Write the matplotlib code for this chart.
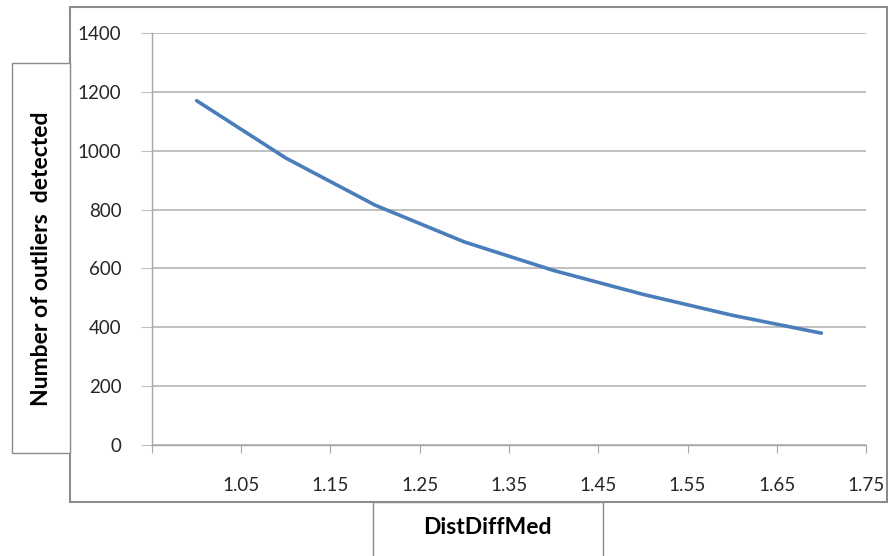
import matplotlib
matplotlib.use("Agg")
import matplotlib.pyplot as plt
from matplotlib.patches import Rectangle

# Data
dist_diff_med = [1.0, 1.1, 1.2, 1.3, 1.4, 1.5, 1.6, 1.7]
outliers = [1170, 975, 815, 690, 593, 512, 441, 380]
x_ticks = [0.95, 1.05, 1.15, 1.25, 1.35, 1.45, 1.55, 1.65, 1.75]
x_tick_labels = ["", "1.05", "1.15", "1.25", "1.35", "1.45", "1.55", "1.65", "1.75"]
y_ticks = [0, 200, 400, 600, 800, 1000, 1200, 1400]

W, H = 888, 556
plt.rcParams['font.family'] = ['Lato', 'DejaVu Sans']
fig = plt.figure(figsize=(W / 100, H / 100), dpi=100)

def fx(px):
    return px / W

def fy(py):
    return 1 - py / H

# Outer chart border
fig.patches.append(Rectangle((fx(70), fy(502)), fx(887) - fx(70), fy(7) - fy(502),
                             transform=fig.transFigure, fill=False,
                             edgecolor='#8c8c8c', linewidth=1.5))
# Y label box
fig.patches.append(Rectangle((fx(12), fy(453)), fx(70) - fx(12), fy(63) - fy(453),
                             transform=fig.transFigure, facecolor='white',
                             edgecolor='#8c8c8c', linewidth=1.0))
# X label box
fig.patches.append(Rectangle((fx(373), fy(560)), fx(603) - fx(373), fy(502) - fy(560),
                             transform=fig.transFigure, facecolor='white',
                             edgecolor='#8c8c8c', linewidth=1.0, clip_on=False))

ax = fig.add_axes([fx(152), fy(445), fx(866) - fx(152), fy(33) - fy(445)])
ax.plot(dist_diff_med, outliers, color='#4A7EBB', linewidth=2.6, solid_capstyle='round')

ax.set_xlim(0.95, 1.75)
ax.set_ylim(0, 1400)
ax.set_xticks(x_ticks)
ax.set_xticklabels(x_tick_labels)
ax.set_yticks(y_ticks)
ax.yaxis.grid(True, color='#bfbfbf', linewidth=1.4)
ax.set_axisbelow(True)
for s in ['top', 'right']:
    ax.spines[s].set_visible(False)
for s in ['left', 'bottom']:
    ax.spines[s].set_color('#a6a6a6')
    ax.spines[s].set_linewidth(1.0)
ax.tick_params(axis='x', direction='out', length=6, color='#a6a6a6', pad=17,
               labelsize=13.5, labelcolor='#262626')
ax.tick_params(axis='y', direction='out', length=8, color='#bfbfbf', pad=14,
               labelsize=13.5, labelcolor='#262626')

fig.text(fx(41), fy(259), 'Number of outliers  detected', rotation=90,
         ha='center', va='center', fontsize=16.5, fontweight='bold', color='black')
fig.text(fx(487), fy(528), 'DistDiffMed', ha='center', va='center',
         fontsize=16.5, fontweight='bold', color='black')

fig.savefig('out.png', dpi=100)
